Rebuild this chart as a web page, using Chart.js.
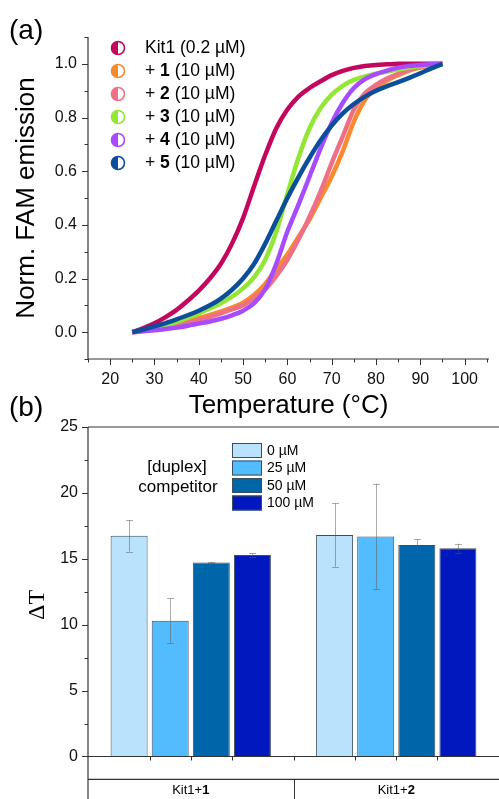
<!DOCTYPE html>
<html><head><meta charset="utf-8">
<script src="https://cdn.jsdelivr.net/npm/chart.js@4"></script>
<style>
html,body{margin:0;padding:0;background:#fff;}
#wrap{position:relative;width:499px;height:799px;overflow:hidden;background:#fff;}
#ca{position:absolute;left:0;top:0;}
#cb{position:absolute;left:0;top:395px;}
</style></head><body>
<div id="wrap"><canvas id="ca" width="499" height="425"></canvas><canvas id="cb" width="499" height="404"></canvas></div>
<script>
// ---------- Panel (a) data ----------
const temps = [25,27.5,30,32.5,35,37.5,40,42.5,45,47.5,50,52.5,55,57.5,60,62.5,65,67.5,70,72.5,75,77.5,80,82.5,85,87.5,90,92.5,95];
const kit1  = [0,0.015,0.033,0.056,0.083,0.117,0.155,0.2,0.255,0.33,0.425,0.545,0.66,0.76,0.83,0.878,0.91,0.935,0.958,0.974,0.985,0.992,0.996,0.998,1.0,1.0,1.0,1.0,1.0];
const plus1 = [0,0.006,0.013,0.021,0.03,0.04,0.052,0.064,0.077,0.092,0.11,0.14,0.18,0.235,0.29,0.355,0.42,0.5,0.58,0.675,0.785,0.865,0.91,0.938,0.958,0.975,0.986,0.994,1.0];
const plus2 = [0,0.005,0.011,0.018,0.026,0.035,0.045,0.057,0.07,0.085,0.1,0.128,0.16,0.21,0.27,0.345,0.43,0.525,0.63,0.73,0.83,0.89,0.922,0.945,0.963,0.978,0.99,0.996,1.0];
const plus3 = [0,0.007,0.015,0.026,0.038,0.053,0.07,0.088,0.108,0.132,0.163,0.205,0.27,0.375,0.515,0.65,0.76,0.835,0.885,0.918,0.94,0.953,0.963,0.971,0.979,0.986,0.992,0.997,1.0];
const plus4 = [0,0.003,0.007,0.012,0.017,0.024,0.032,0.04,0.05,0.063,0.08,0.108,0.16,0.255,0.375,0.475,0.58,0.685,0.78,0.855,0.91,0.943,0.962,0.975,0.986,0.992,0.996,0.998,1.0];
const plus5 = [0,0.01,0.022,0.034,0.048,0.063,0.08,0.1,0.125,0.158,0.2,0.255,0.33,0.415,0.5,0.578,0.65,0.715,0.77,0.815,0.85,0.878,0.9,0.917,0.932,0.948,0.965,0.983,1.0];
const seriesNames = ['Kit1','1','2','3','4','5'];
const seriesConc  = ['0.2 µM','10 µM','10 µM','10 µM','10 µM','10 µM'];
const xTicksA = [20,30,40,50,60,70,80,90,100];
const yTicksA = [0,0.2,0.4,0.6,0.8,1.0];

// ---------- Panel (b) data ----------
const groupBase = 'Kit1+';
const groupNum  = ['1','2'];
const concLabels = ['0 µM','25 µM','50 µM','100 µM'];
const dT0   = [16.75,16.8];
const dT25  = [10.3,16.7];
const dT50  = [14.72,16.04];
const dT100 = [15.28,15.8];
const err0   = [1.2,2.4];
const err25  = [1.7,4.0];
const err50  = [0.05,0.45];
const err100 = [0.13,0.35];
const yTicksB = [0,5,10,15,20,25];

const FONT = '"Liberation Sans", Arial, sans-serif';
const colorsA = ['#c4075e','#f98a2e','#ee6f86','#94e634','#a64bff','#0b4f9c'];
const seriesA = [kit1,plus1,plus2,plus3,plus4,plus5];
const barColors = ['#b9e3fd','#52bcfe','#0066aa','#0218bf'];
const barSeries = [dT0,dT25,dT50,dT100];
const errSeries = [err0,err25,err50,err100];

function seg(ctx,x1,y1,x2,y2){ctx.beginPath();ctx.moveTo(x1,y1);ctx.lineTo(x2,y2);ctx.stroke();}

const panelA = {
  id:'panelA',
  afterDraw(chart){
    const {ctx, chartArea:a, scales:{x,y}} = chart;
    ctx.save();
    ctx.strokeStyle='#333'; ctx.lineWidth=1.2;
    seg(ctx,a.left,a.top,a.left,a.bottom);
    seg(ctx,a.left,a.bottom,a.right,a.bottom);
    ctx.lineWidth=1;
    for(let v=15; v<=105; v+=5){
      const px=Math.round(x.getPixelForValue(v))+0.5;
      const len = xTicksA.includes(v)?6:3.5;
      seg(ctx,px,a.bottom,px,a.bottom+len);
    }
    for(let k=-1;k<=11;k++){
      const v=k/10; const py=Math.round(y.getPixelForValue(v))+0.5;
      const len = (k%2===0 && k>=0 && k<=10)?6:3.5;
      seg(ctx,a.left-len,py,a.left,py);
    }
    ctx.fillStyle='#000';
    ctx.font='26px '+FONT; ctx.textAlign='center'; ctx.textBaseline='middle';
    ctx.fillText('Temperature (°C)',(a.left+a.right)/2,406);
    ctx.save(); ctx.translate(27,(a.top+a.bottom)/2); ctx.rotate(-Math.PI/2);
    ctx.fillText('Norm. FAM emission',0,0); ctx.restore();
    ctx.font='28px '+FONT; ctx.textAlign='left';
    ctx.fillText('(a)',9,31);
    // legend
    for(let i=0;i<seriesNames.length;i++){
      const cy=48+i*23, cx=118, r=6.5;
      ctx.beginPath(); ctx.arc(cx,cy,r,0,2*Math.PI); ctx.fillStyle='#fff'; ctx.fill();
      ctx.beginPath(); ctx.moveTo(cx,cy); ctx.arc(cx,cy,r,Math.PI/2,3*Math.PI/2); ctx.closePath();
      ctx.fillStyle=colorsA[i]; ctx.fill();
      ctx.beginPath(); ctx.arc(cx,cy,r,0,2*Math.PI); ctx.strokeStyle=colorsA[i]; ctx.lineWidth=1.6; ctx.stroke();
      ctx.fillStyle='#000'; ctx.textBaseline='middle';
      let tx=145;
      const fs='17.5px ';
      if(i===0){
        ctx.font=fs+FONT; ctx.fillText(seriesNames[i]+' ('+seriesConc[i]+')',tx,cy);
      } else {
        ctx.font=fs+FONT; ctx.fillText('+ ',tx,cy); tx+=ctx.measureText('+ ').width;
        ctx.font='bold '+fs+FONT; ctx.fillText(seriesNames[i],tx,cy); tx+=ctx.measureText(seriesNames[i]).width;
        ctx.font=fs+FONT; ctx.fillText(' ('+seriesConc[i]+')',tx,cy);
      }
    }
    ctx.restore();
  }
};

new Chart(document.getElementById('ca'),{
  type:'line',
  data:{datasets: seriesA.map((s,i)=>({
    label: seriesNames[i],
    data: temps.map((t,j)=>({x:t,y:s[j]})),
    borderColor: colorsA[i], backgroundColor: colorsA[i],
    borderWidth:4.5, pointRadius:0, fill:false,
    cubicInterpolationMode:'monotone', order:5-i
  }))},
  options:{
    responsive:false, animation:false, devicePixelRatio:1,
    layout:{padding:{top:37,right:10,left:0,bottom:0}},
    plugins:{legend:{display:false},tooltip:{enabled:false}},
    scales:{
      x:{type:'linear',min:15,max:105.5,
        grid:{display:false,drawTicks:false}, border:{display:false},
        ticks:{font:{family:FONT,size:16},color:'#111',padding:11,autoSkip:false,maxRotation:0},
        afterBuildTicks:s=>{s.ticks=xTicksA.map(v=>({value:v}));},
        afterFit:s=>{s.height=66;}},
      y:{type:'linear',min:-0.1,max:1.1,
        grid:{display:false,drawTicks:false}, border:{display:false},
        ticks:{font:{family:FONT,size:16},color:'#111',padding:11,callback:v=>Number(v).toFixed(1)},
        afterBuildTicks:s=>{s.ticks=yTicksA.map(v=>({value:v}));},
        afterFit:s=>{s.width=88;}}
    }
  },
  plugins:[panelA]
});

const panelB = {
  id:'panelB',
  afterDatasetsDraw(chart){
    const {ctx, scales:{y}} = chart;
    ctx.save();
    ctx.strokeStyle='rgba(90,90,90,0.5)'; ctx.lineWidth=1;
    errSeries.forEach((es,d)=>{
      const meta=chart.getDatasetMeta(d);
      es.forEach((e,i)=>{
        const bx=Math.round(meta.data[i].x)+0.5;
        const v=barSeries[d][i];
        const yt=y.getPixelForValue(v+e), yb=y.getPixelForValue(v-e);
        seg(ctx,bx,yt,bx,yb);
        seg(ctx,bx-3.5,Math.round(yt)+0.5,bx+3.5,Math.round(yt)+0.5);
        seg(ctx,bx-3.5,Math.round(yb)+0.5,bx+3.5,Math.round(yb)+0.5);
      });
    });
    ctx.restore();
  },
  afterDraw(chart){
    const {ctx, chartArea:a, scales:{x,y}, width, height} = chart;
    ctx.save();
    ctx.strokeStyle='#333'; ctx.lineWidth=1.2;
    const y0=Math.round(y.getPixelForValue(0))+0.5;
    seg(ctx,a.left,a.top,a.left,height);
    seg(ctx,a.left,a.top,width,a.top);
    seg(ctx,a.left,a.bottom,width,a.bottom);
    seg(ctx,a.left,y0,width,y0);
    ctx.lineWidth=1;
    for(let v=0; v<=25; v+=2.5){
      const py=Math.round(y.getPixelForValue(v))+0.5;
      const len = yTicksB.includes(v)?6:3.5;
      seg(ctx,a.left-len,py,a.left,py);
    }
    // ticks between bars and group divider
    const xs = groupNum.map((g,i)=>barSeries.map((s,d)=>chart.getDatasetMeta(d).data[i].x));
    xs.forEach(row=>{ for(let k=0;k<row.length-1;k++){ const px=Math.round((row[k]+row[k+1])/2)+0.5; seg(ctx,px,y0,px,y0+4);} });
    const div=Math.round((x.getPixelForValue(0)+x.getPixelForValue(1))/2)+0.5;
    seg(ctx,div,y0,div,y0+4);
    seg(ctx,div,a.bottom,div,height);
    // category labels
    ctx.fillStyle='#000'; ctx.textBaseline='middle';
    groupNum.forEach((g,i)=>{
      const cx=x.getPixelForValue(i);
      ctx.font='13px '+FONT; const w1=ctx.measureText(groupBase).width;
      ctx.font='bold 13px '+FONT; const w2=ctx.measureText(g).width;
      let tx=cx-(w1+w2)/2;
      ctx.font='13px '+FONT; ctx.textAlign='left'; ctx.fillText(groupBase,tx,a.bottom+11);
      ctx.font='bold 13px '+FONT; ctx.fillText(g,tx+w1,a.bottom+11);
    });
    // legend
    for(let i=0;i<concLabels.length;i++){
      const ty=48+i*17.5;
      ctx.fillStyle=barColors[i]; ctx.fillRect(232,ty,30,15);
      ctx.strokeStyle='#3d4d5e'; ctx.lineWidth=1; ctx.strokeRect(232.5,ty+0.5,29,14);
      ctx.fillStyle='#000'; ctx.font='14px '+FONT; ctx.textAlign='left';
      ctx.fillText(concLabels[i],267,ty+8);
    }
    ctx.font='17px '+FONT; ctx.textAlign='center';
    ctx.fillText('[duplex]',177,72);
    ctx.fillText('competitor',178,92);
    // panel label and axis title
    ctx.font='28px '+FONT; ctx.textAlign='left';
    ctx.fillText('(b)',9,13);
    ctx.save(); ctx.translate(38,210); ctx.rotate(-Math.PI/2);
    ctx.font='24px "Liberation Serif", serif'; ctx.textAlign='center';
    ctx.fillText('ΔT',0,0); ctx.restore();
    ctx.restore();
  }
};

new Chart(document.getElementById('cb'),{
  type:'bar',
  data:{labels: groupNum.map(g=>groupBase+g),
    datasets: barSeries.map((s,i)=>({label:concLabels[i], data:s,
      backgroundColor:barColors[i], borderColor:'#3d4d5e', borderWidth:1}))},
  options:{
    responsive:false, animation:false, devicePixelRatio:1,
    layout:{padding:{top:32,right:0,left:0,bottom:19}},
    plugins:{legend:{display:false},tooltip:{enabled:false}},
    scales:{
      x:{display:false},
      y:{min:-1.74,max:25,
        grid:{display:false,drawTicks:false}, border:{display:false},
        ticks:{font:{family:FONT,size:16},color:'#111',padding:10},
        afterBuildTicks:s=>{s.ticks=yTicksB.map(v=>({value:v}));},
        afterFit:s=>{s.width=88;}}
    }
  },
  plugins:[panelB]
});
</script>
</body></html>
